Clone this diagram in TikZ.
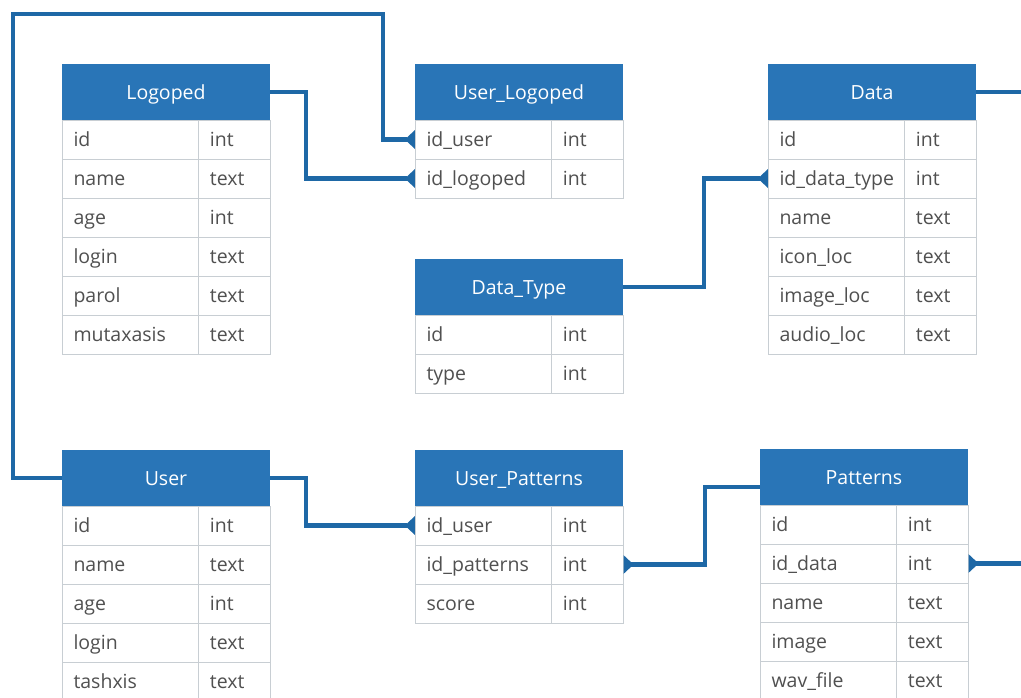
\documentclass[tikz,border=0pt]{standalone}
\usepackage{fontspec}
\setmainfont{Open Sans}
\usepackage{xcolor}
\usetikzlibrary{arrows.meta,positioning,calc}

\definecolor{headblue}{RGB}{41,117,183}
\definecolor{linkblue}{RGB}{30,104,166}
\definecolor{cellgray}{RGB}{200,206,211}
\definecolor{fieldtext}{RGB}{80,80,80}

% one table: name, left x, top y, title, rows field/type
\newcommand{\dbtable}[5]{%
    \node [tablehead] (#1) at (#2+104, #3+28) {#4};
    \foreach \f/\t [count=\i] in {#5} {
        \node [fieldcell] (#1-\i) at (#2+68, #3+56+39*\i-19.5) {\f};
        \node [typecell, right=0pt of #1-\i] (#1-\i t) {\t};
    }
}

\begin{document}
\begin{tikzpicture}[
    x=1pt, y=-1pt,
    font=\fontsize{19.5}{22}\selectfont,
    tablehead/.style={rectangle, fill=headblue, text=white, minimum width=208pt, minimum height=56pt, inner sep=0pt, text height=17pt, text depth=3pt},
    fieldcell/.style={rectangle, draw=cellgray, fill=white, text=fieldtext, text width=113pt, align=left, inner xsep=11.5pt, inner ysep=0pt, minimum height=39pt, text height=17pt, text depth=3pt},
    typecell/.style={fieldcell, text width=49pt},
    link/.style={draw=linkblue, line width=4.5pt},
    many/.style={-{Triangle[reversed, length=10pt, width=18pt]}}
]
    \useasboundingbox (0,0) rectangle (1021,697);

    \dbtable{logoped}{62}{64}{Logoped}{id/int, name/text, age/int, login/text, parol/text, mutaxasis/text}
    \dbtable{userlogoped}{415}{64}{User\_Logoped}{id\_user/int, id\_logoped/int}
    \dbtable{data}{768}{64}{Data}{id/int, id\_data\_type/int, name/text, icon\_loc/text, image\_loc/text, audio\_loc/text}
    \dbtable{datatype}{415}{259}{Data\_Type}{id/int, type/int}
    \dbtable{user}{62}{450}{User}{id/int, name/text, age/int, login/text, tashxis/text}
    \dbtable{userpatterns}{415}{450}{User\_Patterns}{id\_user/int, id\_patterns/int, score/int}
    \dbtable{patterns}{760}{449}{Patterns}{id/int, id\_data/int, name/text, image/text, wav\_file/text}

    \coordinate (topleft) at (13,14);
    \coordinate (topright) at (383,14);

    \draw [link, many] (user.west) -| (topleft) -- (topright) |- (userlogoped-1.west);
    \draw [link, many] (logoped.east) -- ++(36,0) |- (userlogoped-2.west);
    \draw [link, many] (datatype.east) -- ++(81,0) |- (data-2.west);
    \draw [link, many] (user.east) -- ++(36,0) |- (userpatterns-1.west);
    \draw [link, many] ([yshift=-10pt]patterns.west) -- ++(-55,0) |- (userpatterns-2t.east);
    \draw [link, many] (data.east) -- ++(54,0) |- (patterns-2t.east);
\end{tikzpicture}
\end{document}
